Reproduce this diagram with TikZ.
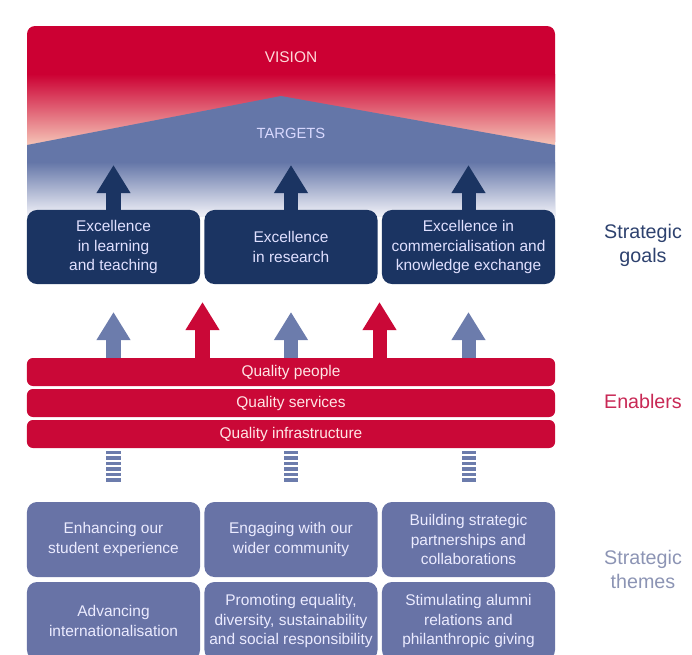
\documentclass[tikz,border=0pt]{standalone}
\usepackage{fontspec}
\setmainfont{Liberation Sans}
\usepackage{tikz}
\usetikzlibrary{positioning,arrows.meta}
\definecolor{visionred}{RGB}{204, 0, 51}
\definecolor{salmon}{RGB}{238, 140, 115}
\definecolor{peach}{RGB}{248, 210, 192}
\definecolor{targetblue}{RGB}{100, 118, 168}
\definecolor{targetlight}{RGB}{236, 237, 245}
\definecolor{goalnavy}{RGB}{27, 52, 98}
\definecolor{enablerred}{RGB}{202, 8, 55}
\definecolor{themeblue}{RGB}{104, 115, 166}
\definecolor{arrowgrey}{RGB}{108, 124, 172}
\definecolor{labelnavy}{RGB}{45, 65, 110}
\definecolor{labelred}{RGB}{200, 40, 85}
\definecolor{labelgrey}{RGB}{140, 148, 180}

\begin{document}
\begin{tikzpicture}[x=0.025cm, y=-0.025cm,
        % box styles
        goal/.style={fill=goalnavy, rounded corners=0.25cm, minimum width=4.325cm, minimum height=1.85cm, inner sep=0pt, align=center, text=white!88!blue, font=\fontsize{11}{13.8}\selectfont},
        enabler/.style={fill=enablerred, rounded corners=0.15cm, minimum width=13.2cm, minimum height=0.7cm, inner sep=0pt, text=white!90!red, font=\fontsize{11}{13}\selectfont},
        theme/.style={fill=themeblue, rounded corners=0.25cm, minimum width=4.325cm, minimum height=1.875cm, inner sep=0pt, align=center, text=white!92!blue, font=\fontsize{11}{13.8}\selectfont},
        sidelabel/.style={align=center, font=\fontsize{14}{17}\selectfont},
        % arrow styles
        uparrow/.style={line width=0.35cm, -{Triangle[width=0.8cm, length=0.7cm]}},
        stripes/.style={arrowgrey, line width=0.35cm, dash pattern=on 2.5pt off 1.4pt, shorten <=0.5cm, shorten >=0.05cm}
    ]
    \useasboundingbox (0,0) rectangle (692,654);
    \clip (0,0) rectangle (692,654);

    % Vision / targets panel
    \fill[visionred, rounded corners=0.2cm] (27,150) -- (27,26) -- (555,26) -- (555,150) -- cycle;
    \shade[top color=visionred, middle color=salmon, bottom color=peach] (27,74) rectangle (555,150);
    \fill[targetblue] (27,145) -- (281,96) -- (555,145) -- (555,216) -- (27,216) -- cycle;
    \shade[top color=targetblue, bottom color=targetlight] (27,162) rectangle (555,214);
    \fill[targetlight] (27,214) rectangle (555,216);
    \node[text=pink!60!white, font=\fontsize{11}{13}\selectfont] (vision) at (291,57) {VISION};
    \node[text=white!85!blue, font=\fontsize{10.5}{13}\selectfont] (targets) at (291,133) {TARGETS};

    % Strategic goals
    \node[goal] (g1) at (113.5,247) {Excellence\\in learning\\and teaching};
    \node[goal] (g2) at (291,247) {Excellence\\in research};
    \node[goal] (g3) at (468.5,247) {Excellence in\\commercialisation and\\knowledge exchange};

    \coordinate (t1) at (113.5,165);
    \coordinate (t2) at (291,165);
    \coordinate (t3) at (468.5,165);
    \draw[uparrow, goalnavy] (g1.north) -- (t1);
    \draw[uparrow, goalnavy] (g2.north) -- (t2);
    \draw[uparrow, goalnavy] (g3.north) -- (t3);

    % Enablers
    \node[enabler] (q1) at (291,372) {Quality people};
    \node[enabler] (q2) at (291,403) {Quality services};
    \node[enabler] (q3) at (291,434) {Quality infrastructure};

    \coordinate (a1) at (113.5,312);
    \coordinate (a2) at (291,312);
    \coordinate (a3) at (468.5,312);
    \coordinate (r1) at (202.5,302);
    \coordinate (r2) at (379.5,302);
    \draw[uparrow, arrowgrey] (a1 |- q1.north) -- (a1);
    \draw[uparrow, arrowgrey] (a2 |- q1.north) -- (a2);
    \draw[uparrow, arrowgrey] (a3 |- q1.north) -- (a3);
    \draw[uparrow, enablerred] (r1 |- q1.north) -- (r1);
    \draw[uparrow, enablerred] (r2 |- q1.north) -- (r2);

    % Strategic themes
    \node[theme] (th1) at (113.5,539.5) {Enhancing our\\student experience};
    \node[theme] (th2) at (291,539.5) {Engaging with our\\wider community};
    \node[theme] (th3) at (468.5,539.5) {Building strategic\\partnerships and\\collaborations};
    \node[theme, minimum height=1.95cm] (th4) at (113.5,621) {Advancing\\internationalisation};
    \node[theme, minimum height=1.95cm] (th5) at (291,621) {Promoting equality,\\diversity, sustainability\\and social responsibility};
    \node[theme, minimum height=1.95cm] (th6) at (468.5,621) {Stimulating alumni\\relations and\\philanthropic giving};

    \draw[stripes] (th1.north) -- (th1.north |- q3.south);
    \draw[stripes] (th2.north) -- (th2.north |- q3.south);
    \draw[stripes] (th3.north) -- (th3.north |- q3.south);

    % Side labels
    \node[sidelabel, text=labelnavy] (lgoals) at (643,245) {Strategic\\goals};
    \node[sidelabel, text=labelred] (lenab) at (643,401) {Enablers};
    \node[sidelabel, text=labelgrey] (lthemes) at (643,569) {Strategic\\themes};
\end{tikzpicture}
\end{document}
